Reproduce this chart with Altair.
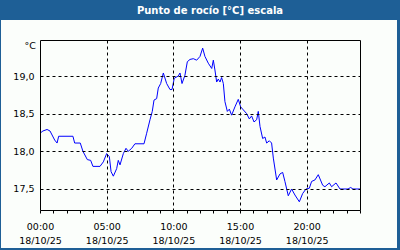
import altair as alt
import pandas as pd

title_text = "Punto de rocío [°C] escala"
unit_text = "°C"
date_label = "18/10/25"

hours = [0.00, 0.22, 0.53, 0.75, 1.10, 1.28, 1.40, 2.47, 2.60, 3.02, 3.22, 3.55, 3.80, 3.97,
         4.50, 4.75, 5.00, 5.20, 5.33, 5.50, 5.75, 5.87, 6.00, 6.25, 6.45, 6.62, 6.88, 7.12,
         7.80, 8.00, 8.25, 8.42, 8.55, 8.75, 8.87, 9.05, 9.25, 9.50, 9.75, 9.90, 10.07, 10.37,
         10.50, 10.65, 10.87, 11.05, 11.25, 11.50, 11.75, 12.00, 12.20, 12.37, 12.62, 12.88,
         13.00, 13.12, 13.25, 13.37, 13.50, 13.62, 13.75, 13.87, 14.05, 14.20, 14.37, 14.62,
         14.87, 15.05, 15.25, 15.50, 15.70, 15.87, 16.05, 16.25, 16.37, 16.50, 16.70, 16.87,
         17.00, 17.20, 17.37, 17.50, 17.75, 18.00, 18.20, 18.37, 18.62, 18.87, 19.12, 19.45,
         19.70, 19.95, 20.20, 20.37, 20.62, 20.87, 21.20, 21.37, 21.70, 21.87, 22.20, 22.50,
         23.10, 23.30, 23.47, 24.00]
dew_point = [18.24, 18.27, 18.29, 18.27, 18.15, 18.11, 18.20, 18.20, 18.11, 18.11, 18.00, 17.89, 17.88, 17.80,
             17.80, 17.86, 17.97, 17.93, 17.73, 17.67, 17.77, 17.88, 17.82, 17.97, 18.04, 18.00, 18.04, 18.10,
             18.10, 18.24, 18.42, 18.53, 18.68, 18.70, 18.84, 18.90, 19.04, 18.90, 18.82, 18.82, 18.97, 19.00,
             19.04, 18.90, 19.01, 19.19, 19.22, 19.23, 19.21, 19.26, 19.37, 19.26, 19.17, 19.10,
             19.21, 19.08, 18.92, 18.96, 18.92, 18.98, 18.90, 18.66, 18.53, 18.56, 18.48, 18.59,
             18.69, 18.59, 18.55, 18.50, 18.43, 18.47, 18.39, 18.42, 18.53, 18.33, 18.17, 18.19,
             18.11, 18.14, 18.11, 17.91, 17.62, 17.70, 17.72, 17.60, 17.41, 17.50, 17.42, 17.33,
             17.44, 17.50, 17.51, 17.60, 17.62, 17.69, 17.55, 17.53, 17.58, 17.53, 17.58, 17.50,
             17.50, 17.52, 17.50, 17.50]
y_ticks = [17.5, 18.0, 18.5, 19.0]
x_ticks = list(range(0, 25))

df = pd.DataFrame({"h": hours, "v": dew_point})
one = pd.DataFrame({"k": [0]})

FONT = "DejaVu Sans"
BLUE = "#1e5f96"

x_scale = alt.Scale(domain=[0, 24], nice=False)
y_scale = alt.Scale(domain=[17.221, 19.478], nice=False, zero=False)

x_axis = alt.Axis(
    title=None,
    values=x_ticks,
    tickSize=3,
    tickColor="black",
    domain=False,
    grid=True,
    gridColor="black",
    gridDash=[3, 3],
    gridOpacity={"condition": {"test": "datum.value % 5 === 0 && datum.value > 0", "value": 1}, "value": 0},
    labelExpr="datum.value % 5 === 0 ? [(datum.value < 10 ? '0' : '') + datum.value + ':00', '" + date_label + "'] : ''",
    labelLineHeight=14,
    labelPadding=8,
    labelFont=FONT,
    labelFontSize=9.5,
    labelColor="black",
    labelAngle=0,
    labelAlign="center",
    labelFlush=False,
    labelBaseline="top",
    labelOverlap=False,
    zindex=1,
)
y_axis = alt.Axis(
    title=None,
    values=y_ticks,
    tickSize=0,
    domain=False,
    grid=True,
    gridColor="black",
    gridDash=[3, 3],
    gridOpacity=1,
    labelExpr="replace(format(datum.value, '.1f'), '.', ',')",
    labelPadding=6,
    labelFont=FONT,
    labelFontSize=9.5,
    labelColor="black",
    labelFlush=False,
    zindex=1,
)

panel = alt.Chart(one).mark_rect(fill="#fbfefb").encode(
    x=alt.value(-39), x2=alt.value(357), y=alt.value(-20), y2=alt.value(208)
)

line = alt.Chart(df).mark_line(color="#0000ff", strokeWidth=1).encode(
    x=alt.X("h:Q", scale=x_scale, axis=x_axis),
    y=alt.Y("v:Q", scale=y_scale, axis=y_axis),
)

border = alt.Chart(one).mark_rect(fillOpacity=0, stroke="black", strokeWidth=1).encode(
    x=alt.value(0.5), x2=alt.value(320.5), y=alt.value(0.5), y2=alt.value(170.5)
)

title = alt.Chart(one).mark_text(
    color="white", font=FONT, fontSize=10, fontWeight="bold", align="center", baseline="alphabetic"
).encode(x=alt.value(170), y=alt.value(-26), text=alt.value(title_text))

unit = alt.Chart(one).mark_text(
    color="black", font=FONT, fontSize=9.5, align="right", baseline="alphabetic"
).encode(x=alt.value(-4), y=alt.value(9), text=alt.value(unit_text))

chart = alt.layer(panel, line, border, title, unit).properties(
    width=320,
    height=170,
    background=BLUE,
    padding={"left": 40, "top": 40, "right": 40, "bottom": 40},
    autosize="none",
).configure_view(stroke=None)

chart.save("out.html", embed_options={"renderer": "svg", "actions": False})
